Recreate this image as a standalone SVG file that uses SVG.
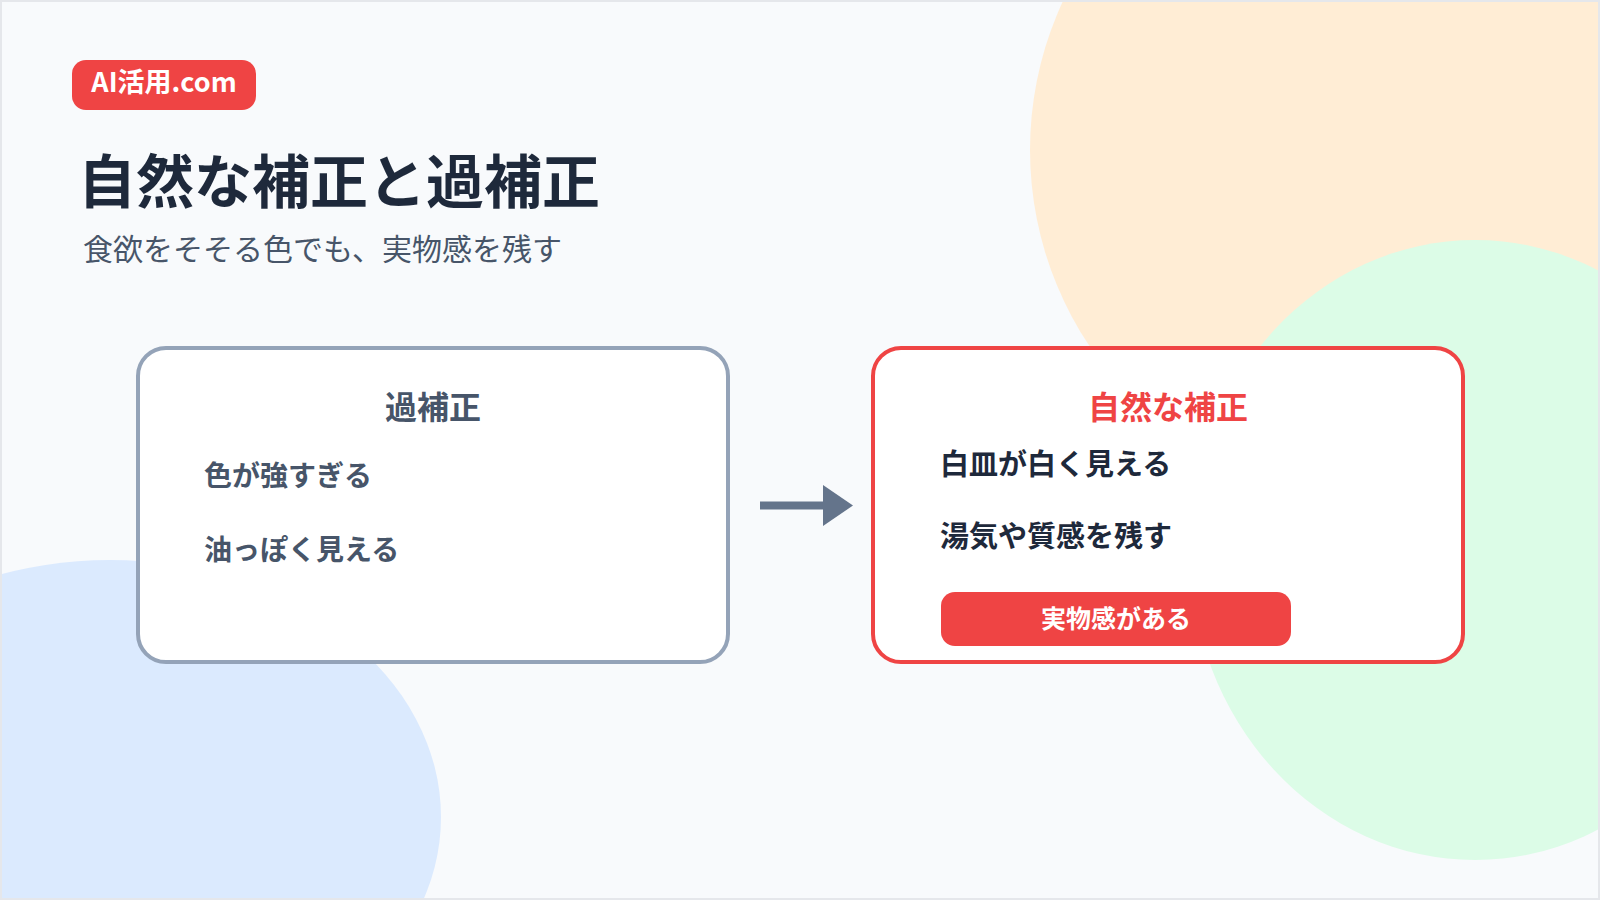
<svg xmlns="http://www.w3.org/2000/svg" width="1600" height="900" viewBox="0 0 1600 900">
  <style>
    .jp { font-family: "Noto Sans CJK JP", "Noto Sans", "Liberation Sans", sans-serif; }
    .b { font-weight: 700; }
    .card { fill: #ffffff; stroke-width: 4; }
    .item-l { font-size: 28px; fill: #475569; font-weight: 700; }
    .item-r { font-size: 29px; fill: #1e293b; font-weight: 700; }
    .head { font-size: 32px; font-weight: 700; text-anchor: middle; }
  </style>
  <!-- background -->
  <rect x="0" y="0" width="1600" height="900" fill="#f8fafc"/>
  <circle cx="1383" cy="150" r="353" fill="#ffedd5"/>
  <ellipse cx="1475" cy="550" rx="285" ry="310" fill="#dcfce7"/>
  <ellipse cx="110" cy="817" rx="331" ry="257" fill="#dbeafe"/>

  <!-- header -->
  <g id="badge">
    <rect x="72" y="60" width="184" height="50" rx="14" fill="#ef4444"/>
    <text x="164" y="92" class="jp b" font-size="27" fill="#ffffff" text-anchor="middle">AI活用.com</text>
  </g>
  <g id="title">
    <text x="78" y="203" class="jp b" font-size="58" fill="#1e293b">自然な補正と過補正</text>
  </g>
  <g id="subtitle">
    <text x="83" y="260" class="jp" font-size="30" fill="#475569">食欲をそそる色でも、実物感を残す</text>
  </g>

  <!-- nodes -->
  <g id="node-over">
    <rect class="card" x="138" y="348" width="590" height="314" rx="28" stroke="#94a3b8"/>
    <text x="433" y="419" class="jp head" fill="#475569">過補正</text>
    <text x="204" y="486" class="jp item-l">色が強すぎる</text>
    <text x="204" y="560" class="jp item-l">油っぽく見える</text>
  </g>

  <g id="node-natural">
    <rect class="card" x="873" y="348" width="590" height="314" rx="28" stroke="#ef4444"/>
    <text x="1168" y="419" class="jp head" fill="#ef4444">自然な補正</text>
    <text x="940" y="475" class="jp item-r">白皿が白く見える</text>
    <text x="940" y="547" class="jp item-r">湯気や質感を残す</text>
    <rect x="941" y="592" width="350" height="54" rx="14" fill="#ef4444"/>
    <text x="1116" y="628" class="jp b" font-size="25" fill="#ffffff" text-anchor="middle">実物感がある</text>
  </g>

  <!-- connectors -->
  <g id="connectors">
    <line x1="760" y1="505.5" x2="826" y2="505.5" stroke="#64748b" stroke-width="8"/>
    <polygon points="823,485 853,505.5 823,526" fill="#64748b"/>
  </g>

  <!-- frame -->
  <rect x="1" y="1" width="1598" height="898" fill="none" stroke="#e5e7eb" stroke-width="2"/>
</svg>
